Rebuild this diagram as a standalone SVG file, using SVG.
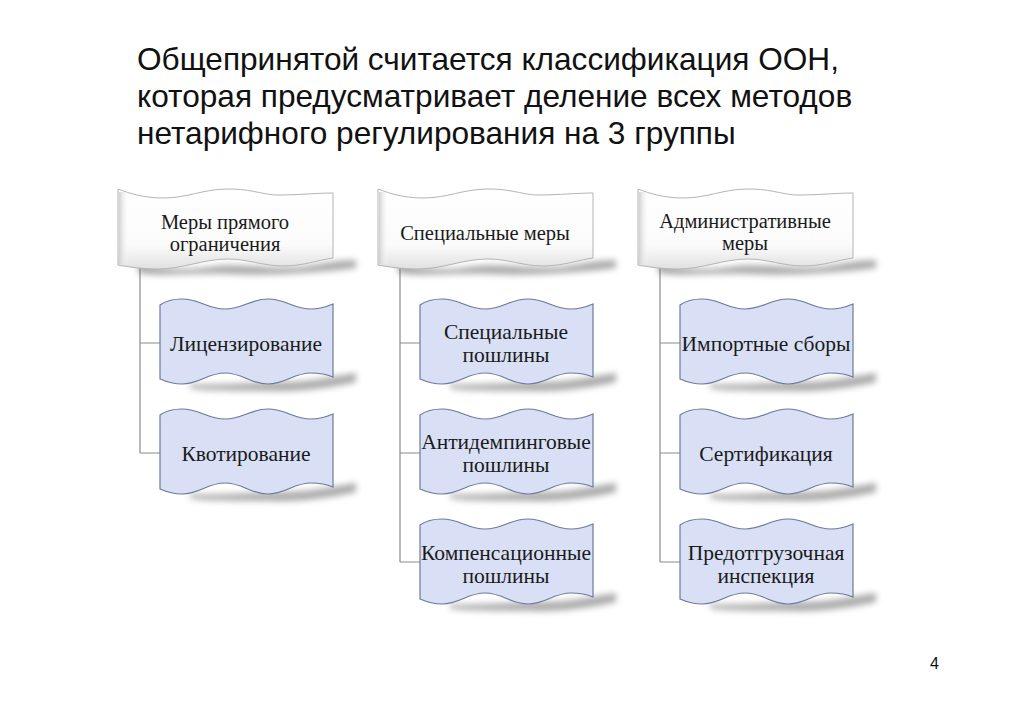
<svg xmlns="http://www.w3.org/2000/svg" xmlns:xlink="http://www.w3.org/1999/xlink" width="1024" height="708" viewBox="0 0 1024 708">
<style>
.title{font-family:"Liberation Sans",Arial,sans-serif;font-size:31.6px;fill:#111}
.lbl{font-family:"Liberation Serif","Times New Roman",serif;font-size:21.5px;fill:#1a1a1a;text-anchor:middle}
.hl{font-family:"Liberation Serif","Times New Roman",serif;font-size:20.5px;fill:#1a1a1a;text-anchor:middle}
.hdr{fill:url(#hg);stroke:#b4b4b4;stroke-width:1}
.box{fill:#d9e0f5;stroke:#6b7a9a;stroke-width:1.2}
.shd{fill:#666;opacity:0.55;filter:url(#blur)}
.con{stroke:#8a8a8a;stroke-width:1.2;fill:none}
.num{font-family:"Liberation Sans",Arial,sans-serif;font-size:16px;fill:#111}
</style>
<defs>
<linearGradient id="hg" x1="0" y1="0" x2="0" y2="1">
<stop offset="0" stop-color="#ffffff"/>
<stop offset="0.7" stop-color="#fbfbfb"/>
<stop offset="1" stop-color="#e0e0e0"/>
</linearGradient>
<linearGradient id="hlg" x1="0" y1="0" x2="1" y2="0">
<stop offset="0" stop-color="#d0d0d0"/>
<stop offset="1" stop-color="#ffffff" stop-opacity="0"/>
</linearGradient>
<filter id="blur" x="-20%" y="-50%" width="140%" height="200%"><feGaussianBlur stdDeviation="3"/></filter>
<path id="hshape" d="M0,1 C15,7 30,10 45,10 C70,10 85,1 110,1 C135,1 145,7 160,7 C180,7 200,5 215,5 L215,70 C200,72 185,78 165,78 C145,78 130,71 110,71 C85,71 65,81 40,81 C25,81 10,79 0,77 Z"/>
<path id="hshadow" d="M20,74 C40,80 65,83 90,79 C120,74 150,81 180,79 C200,77 215,72 238,72 L238,80 C200,85 150,88 110,86 C70,85 40,89 20,85 Z"/>
<path id="bshape" d="M0,6 C7,1 14,0 22,0 C40,0 47,10 65,10 C83,10 90,0 108,0 C126,0 133,10 151,10 C159,10 166,8 173,5 L173,78 C166,75 159,74 151,74 C133,74 126,85 108,85 C90,85 83,74 65,74 C47,74 40,85 22,85 C14,85 7,83 0,80 Z"/>
<path id="bshadow" d="M30,85 C60,87 90,83 120,83 C150,83 170,78 196,74 L196,83 C170,89 140,93 110,92 C80,91 50,93 30,89 Z"/>
<g id="hnode"><use xlink:href="#hshadow" class="shd"/><use xlink:href="#hshape" class="hdr"/><rect x="1" y="4" width="10" height="72" fill="url(#hlg)"/></g>
<g id="bnode"><use xlink:href="#bshadow" class="shd"/><use xlink:href="#bshape" class="box"/></g>
</defs>

<g id="title">
<text class="title" x="137" y="70">Общепринятой считается классификация ООН,</text>
<text class="title" x="137" y="107">которая предусматривает деление всех методов</text>
<text class="title" x="137" y="144">нетарифного регулирования на 3 группы</text>
</g>

<g id="connectors">
<path class="con" d="M140,268 V453 M140,343 H160 M140,453 H160"/>
<path class="con" d="M400,268 V562 M400,343 H420 M400,453 H420 M400,562 H420"/>
<path class="con" d="M660,268 V562 M660,343 H680 M660,453 H680 M660,562 H680"/>
</g>

<g id="h1"><use xlink:href="#hnode" x="118" y="188"/>
<text class="hl" x="225" y="229">Меры прямого</text><text class="hl" x="225" y="251">ограничения</text></g>
<g id="h2"><use xlink:href="#hnode" x="378" y="188"/>
<text class="hl" x="485" y="240">Специальные меры</text></g>
<g id="h3"><use xlink:href="#hnode" x="638" y="188"/>
<text class="hl" x="745" y="228">Административные</text><text class="hl" x="745" y="250">меры</text></g>

<g id="n11"><use xlink:href="#bnode" x="160" y="299"/><text class="lbl" x="246" y="351">Лицензирование</text></g>
<g id="n12"><use xlink:href="#bnode" x="160" y="409"/><text class="lbl" x="246" y="461">Квотирование</text></g>

<g id="n21"><use xlink:href="#bnode" x="420" y="299"/><text class="lbl" x="506" y="339">Специальные</text><text class="lbl" x="506" y="362">пошлины</text></g>
<g id="n22"><use xlink:href="#bnode" x="420" y="409"/><text class="lbl" x="506" y="449">Антидемпинговые</text><text class="lbl" x="506" y="472">пошлины</text></g>
<g id="n23"><use xlink:href="#bnode" x="420" y="519"/><text class="lbl" x="506" y="560">Компенсационные</text><text class="lbl" x="506" y="583">пошлины</text></g>

<g id="n31"><use xlink:href="#bnode" x="680" y="299"/><text class="lbl" x="766" y="351">Импортные сборы</text></g>
<g id="n32"><use xlink:href="#bnode" x="680" y="409"/><text class="lbl" x="766" y="461">Сертификация</text></g>
<g id="n33"><use xlink:href="#bnode" x="680" y="519"/><text class="lbl" x="766" y="560">Предотгрузочная</text><text class="lbl" x="766" y="583">инспекция</text></g>

<text class="num" x="930" y="669">4</text>
</svg>
